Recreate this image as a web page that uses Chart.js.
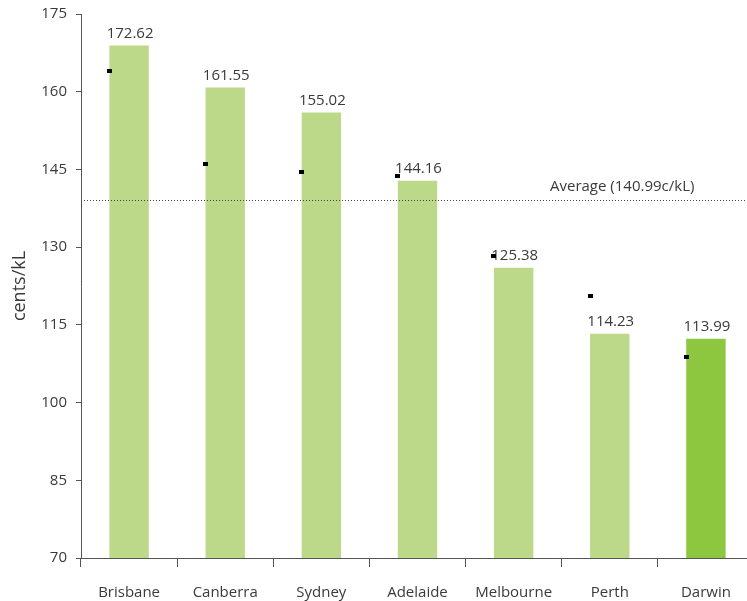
<!DOCTYPE html>
<html>
<head>
<meta charset="utf-8">
<script src="https://cdn.jsdelivr.net/npm/chart.js@4.4.0/dist/chart.umd.min.js"></script>
<style>
  html, body { margin: 0; padding: 0; background: #fff; overflow: hidden; }
  #wrap { width: 747px; height: 601px; overflow: hidden; position: relative; }
  #box { width: 755px; height: 601px; }
</style>
</head>
<body>
<div id="wrap"><div id="box"><canvas id="priceChart"></canvas></div></div>
<script>
// cities and bar heights as drawn
const cities = ['Brisbane', 'Canberra', 'Sydney', 'Adelaide', 'Melbourne', 'Perth', 'Darwin'];
const barValues = [168.9, 160.8, 156.0, 142.8, 126.0, 113.3, 112.3];
const barLabels = ['172.62', '161.55', '155.02', '144.16', '125.38', '114.23', '113.99'];
// small black markers next to each bar
const markerValues = [164.0, 146.1, 144.5, 143.8, 128.3, 120.5, 108.7];
const averageLevel = 139.1;
const averageText = 'Average (140.99c/kL)';
const yTicks = [70, 85, 100, 115, 130, 145, 160, 175];

const textColor = '#3a3a3a';
const fontFamily = '"Open Sans", sans-serif';
const barColors = cities.map(c => c === 'Darwin' ? '#8dc63f' : '#bcd98a');

const overlayPlugin = {
  id: 'overlay',
  afterDatasetsDraw(chart) {
    const ctx = chart.ctx;
    const yScale = chart.scales.y;
    const area = chart.chartArea;
    const bars = chart.getDatasetMeta(0).data;

    // average line
    const avgY = Math.round(yScale.getPixelForValue(averageLevel)) + 0.5;
    ctx.save();
    ctx.strokeStyle = '#444';
    ctx.lineWidth = 1;
    ctx.setLineDash([1, 2]);
    ctx.beginPath();
    ctx.moveTo(area.left, avgY);
    ctx.lineTo(area.right, avgY);
    ctx.stroke();
    ctx.setLineDash([]);
    ctx.fillStyle = textColor;
    ctx.font = '15px ' + fontFamily;
    ctx.textAlign = 'left';
    ctx.textBaseline = 'middle';
    ctx.fillText(averageText, 550, avgY - 14);

    // value labels and markers
    ctx.font = '15px ' + fontFamily;
    ctx.textAlign = 'center';
    bars.forEach((bar, i) => {
      ctx.fillStyle = textColor;
      ctx.fillText(barLabels[i], bar.x + 1, bar.y - 12);
      const my = yScale.getPixelForValue(markerValues[i]);
      const mx = bar.x - bar.width / 2;
      ctx.fillStyle = '#000';
      ctx.fillRect(Math.round(mx - 2.5), Math.round(my - 2), 5, 4);
    });
    ctx.restore();
  }
};

new Chart(document.getElementById('priceChart'), {
  type: 'bar',
  data: {
    labels: cities,
    datasets: [{
      data: barValues,
      backgroundColor: barColors,
      barPercentage: 0.41,
      categoryPercentage: 1.0,
    }],
  },
  options: {
    responsive: true,
    maintainAspectRatio: false,
    animation: false,
    layout: { padding: { top: 14, right: 1, left: 9, bottom: 0 } },
    plugins: {
      legend: { display: false },
      tooltip: { enabled: false },
    },
    scales: {
      x: {
        offset: true,
        grid: {
          offset: true,
          drawOnChartArea: false,
          color: '#555',
          tickLength: 9,
        },
        border: { color: '#555', width: 1 },
        ticks: {
          color: textColor,
          font: { family: fontFamily, size: 15 },
          padding: 17,
        },
        afterFit(scale) { scale.height = 43; },
      },
      y: {
        min: 70,
        max: 175,
        afterBuildTicks(scale) { scale.ticks = yTicks.map(v => ({ value: v })); },
        grid: {
          drawOnChartArea: false,
          color: '#555',
          tickLength: 5,
        },
        border: { color: '#555', width: 1 },
        ticks: {
          color: textColor,
          font: { family: fontFamily, size: 15 },
          padding: 9,
        },
        title: {
          display: true,
          text: 'cents/kL',
          color: textColor,
          font: { family: fontFamily, size: 18 },
          padding: { top: 0, bottom: 0 },
        },
        afterFit(scale) {
          scale.width = 72;
          scale.paddingTop = 0;
          scale.paddingBottom = 0;
        },
      },
    },
  },
  plugins: [overlayPlugin],
});
</script>
</body>
</html>
